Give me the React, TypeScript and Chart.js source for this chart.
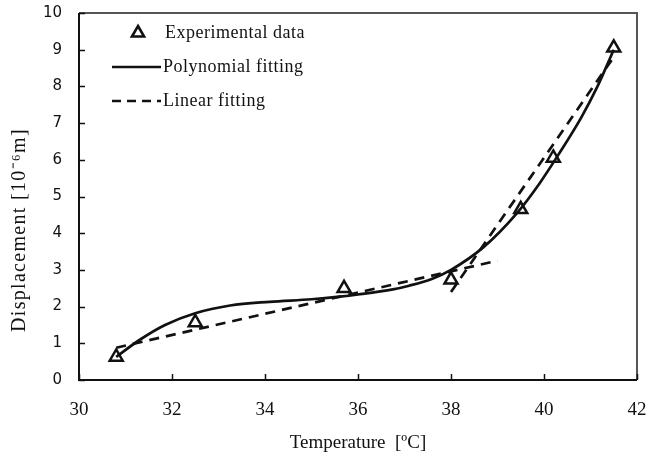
import React, { useEffect, useRef } from 'react';
import { Chart, registerables } from 'chart.js';

Chart.register(...registerables);

// ---- data ----
const expX = [30.8, 32.5, 35.7, 38.0, 39.5, 40.2, 41.5];
const expY = [0.63, 1.57, 2.5, 2.73, 4.65, 6.05, 9.05];

const polyX = [30.8, 31.3, 31.85, 32.5, 33.25, 34.1, 35.0, 35.6, 36.0, 36.75, 37.1, 37.6, 38.0, 38.7, 39.4, 39.9, 40.3, 40.8, 41.15, 41.5];
const polyY = [0.63, 1.09, 1.5, 1.82, 2.03, 2.13, 2.2, 2.27, 2.33, 2.47, 2.57, 2.76, 3.0, 3.62, 4.52, 5.35, 6.12, 7.15, 8.0, 9.0];

const lin1X = [30.8, 39.0];
const lin1Y = [0.88, 3.25];
const lin2X = [38.0, 41.5];
const lin2Y = [2.4, 8.8];

const xMin = 30, xMax = 42, xStep = 2;
const yMin = 0, yMax = 10, yStep = 1;

const legendLabels = ['Experimental data', 'Polynomial fitting', 'Linear fitting'];
const xTitle = 'Temperature  [\u00BAC]';
const yTitle = 'Displacement [10\u207B\u2076m]';

const pts = (xs: number[], ys: number[]) => xs.map((x, i) => ({ x, y: ys[i] }));

const SERIF = '"Liberation Serif", "Times New Roman", serif';

const decorPlugin = {
  id: 'decor',
  afterDraw(chart: any) {
    const ctx = chart.ctx as CanvasRenderingContext2D;
    const { left, right, top, bottom } = chart.chartArea;
    const xs = chart.scales.x;
    const ys = chart.scales.y;
    ctx.save();
    // top & right frame (grey)
    ctx.strokeStyle = '#555';
    ctx.lineWidth = 2;
    ctx.beginPath();
    ctx.moveTo(left, top);
    ctx.lineTo(right, top);
    ctx.lineTo(right, bottom);
    ctx.stroke();
    // left & bottom axes (black)
    ctx.strokeStyle = '#111';
    ctx.lineWidth = 2;
    ctx.beginPath();
    ctx.moveTo(left, top);
    ctx.lineTo(left, bottom);
    ctx.lineTo(right, bottom);
    ctx.stroke();
    // inward tick marks
    ctx.lineWidth = 1.5;
    ctx.beginPath();
    xs.ticks.forEach((t: any) => {
      const px = Math.round(xs.getPixelForValue(t.value)) + 0.5;
      ctx.moveTo(px, bottom);
      ctx.lineTo(px, bottom - 6);
    });
    ys.ticks.forEach((t: any) => {
      const py = Math.round(ys.getPixelForValue(t.value)) + 0.5;
      ctx.moveTo(left, py);
      ctx.lineTo(left + 6, py);
    });
    ctx.stroke();

    // axis titles
    ctx.fillStyle = '#111';
    ctx.textAlign = 'center';
    ctx.textBaseline = 'middle';
    ctx.font = `19px ${SERIF}`;
    ctx.fillText(xTitle, (left + right) / 2, 443);
    ctx.save();
    ctx.translate(20, 230);
    ctx.rotate(-Math.PI / 2);
    ctx.font = `20px ${SERIF}`;
    try { (ctx as any).letterSpacing = '1.3px'; } catch (e) {}
    ctx.fillText(yTitle, 0, 0);
    ctx.restore();

    // legend
    ctx.font = `18px ${SERIF}`;
    try { (ctx as any).letterSpacing = '0.5px'; } catch (e) {}
    ctx.textAlign = 'left';
    // triangle
    const tx = 138, ty = 33, r = 7;
    ctx.strokeStyle = '#111';
    ctx.lineWidth = 2.6;
    ctx.beginPath();
    ctx.moveTo(tx, ty - r);
    ctx.lineTo(tx + r * Math.sin((2 * Math.PI) / 3), ty + r / 2);
    ctx.lineTo(tx - r * Math.sin((2 * Math.PI) / 3), ty + r / 2);
    ctx.closePath();
    ctx.stroke();
    ctx.fillText(legendLabels[0], 165, 33);
    // solid line
    ctx.lineWidth = 2.7;
    ctx.beginPath();
    ctx.moveTo(112, 67);
    ctx.lineTo(161, 67);
    ctx.stroke();
    ctx.fillText(legendLabels[1], 163, 67);
    // dashed line
    ctx.setLineDash([9, 6]);
    ctx.beginPath();
    ctx.moveTo(112, 101);
    ctx.lineTo(161, 101);
    ctx.stroke();
    ctx.setLineDash([]);
    ctx.fillText(legendLabels[2], 163, 101);
    ctx.restore();
  },
};

export default function App() {
  const ref = useRef<HTMLCanvasElement | null>(null);
  useEffect(() => {
    if (!ref.current) return;
    const lineBase = {
      showLine: true,
      pointRadius: 0,
      borderColor: '#111',
      borderWidth: 2.7,
      fill: false,
    };
    const chart = new Chart(ref.current, {
      type: 'scatter',
      data: {
        datasets: [
          {
            label: legendLabels[0],
            data: pts(expX, expY),
            pointStyle: 'triangle',
            pointRadius: 7.5,
            pointBorderWidth: 2.5,
            pointBorderColor: '#111',
            pointBackgroundColor: 'rgba(0,0,0,0)',
            showLine: false,
          },
          {
            ...lineBase,
            label: legendLabels[1],
            data: pts(polyX, polyY),
            cubicInterpolationMode: 'monotone',
          },
          {
            ...lineBase,
            label: legendLabels[2],
            data: pts(lin1X, lin1Y),
            borderDash: [10, 7],
          },
          {
            ...lineBase,
            label: legendLabels[2] + ' 2',
            data: pts(lin2X, lin2Y),
            borderDash: [10, 7],
          },
        ] as any,
      },
      options: {
        responsive: false,
        animation: false,
        events: [],
        layout: { padding: { left: 0, top: 13, right: 10, bottom: 0 } },
        plugins: {
          legend: { display: false },
          tooltip: { enabled: false },
          title: { display: false },
        },
        scales: {
          x: {
            type: 'linear',
            min: xMin,
            max: xMax,
            ticks: {
              stepSize: xStep,
              color: '#111',
              font: { family: SERIF, size: 19 },
              padding: 0,
              maxRotation: 0,
            },
            grid: { display: false, drawTicks: true, tickLength: 19 },
            border: { display: false },
            afterFit: (s: any) => { s.height = 82; },
          },
          y: {
            type: 'linear',
            min: yMin,
            max: yMax,
            ticks: {
              stepSize: yStep,
              color: '#111',
              font: { family: '"DejaVu Sans", sans-serif', size: 15 },
              padding: 0,
            },
            grid: { display: false, drawTicks: true, tickLength: 17 },
            border: { display: false },
            afterFit: (s: any) => { s.width = 79; },
          },
        },
      } as any,
      plugins: [decorPlugin],
    });
    return () => chart.destroy();
  }, []);

  return (
    <div style={{ position: 'absolute', left: 0, top: 0, width: 647, height: 462, background: '#fff' }}>
      <canvas ref={ref} width={647} height={462} style={{ width: 647, height: 462, display: 'block' }} />
    </div>
  );
}
